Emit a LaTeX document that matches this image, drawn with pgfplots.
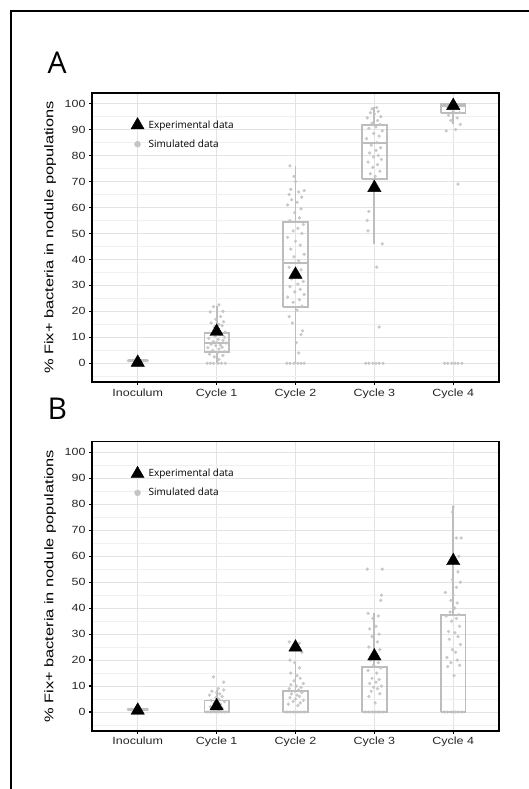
\documentclass[border=0pt]{standalone}
\usepackage{pgfplots}
\pgfplotsset{compat=1.18}
\usepackage{fontspec}
\setmainfont{Liberation Sans}
\newfontfamily\tickfont[FakeStretch=1.2]{Liberation Sans}
\newfontfamily\labfont[FakeStretch=1.3]{Liberation Sans}
\newfontfamily\legfont{Open Sans}
\definecolor{boxgray}{HTML}{BDBDBD}
\definecolor{ptgray}{HTML}{C4C4C4}
\definecolor{gridgray}{HTML}{E3E3E3}
\definecolor{minorgray}{HTML}{F0F0F0}

\pgfplotsset{
  panel/.style={
    scale only axis, width=407pt, height=289pt, anchor=south west,
    xmin=-0.58, xmax=4.58, ymin=-7.2, ymax=104.1,
    unbounded coords=jump,
    xtick={0,...,4}, xticklabels={Inoculum,Cycle 1,Cycle 2,Cycle 3,Cycle 4},
    ytick={0,10,...,100}, minor ytick={-5,5,...,95},
    grid=both,
    major grid style={gridgray, line width=0.6pt},
    minor grid style={minorgray, line width=0.6pt},
    axis line style={black, line width=1.6pt},
    tick align=outside, xtick pos=lower, ytick pos=left,
    major tick length=3pt, minor tick length=0pt,
    major tick style={black, line width=1.2pt},
    tick label style={font=\tickfont\fontsize{10.4}{12}\selectfont, text=black!85},
    /pgf/number format/assume math mode=true,
    ylabel={\% Fix+ bacteria in nodule populations},
    every axis y label/.style={at={(axis description cs:-0.103,0.5)}, rotate=90, anchor=center,
      font=\labfont\fontsize{12.6}{14}\selectfont},
    legend style={draw=none, fill=none, at={(axis cs:0,88.35)}, anchor=west, xshift=-6.9pt,
      font=\legfont\fontsize{10}{11}\selectfont, row sep=7pt, inner sep=0pt,
      nodes={inner sep=1.5pt}, column sep=3pt},
    legend cell align=left,
    legend image code/.code={\draw[##1] plot coordinates {(0pt,0pt)};},
  },
  bx/.style={boxgray, line width=1.8pt, solid, mark=none, line join=miter, forget plot},
  pts/.style={only marks, mark=*, mark size=1.45pt, color=ptgray,
    mark options={solid, fill=ptgray, draw=ptgray, opacity=0.9}, forget plot},
  tri/.style={only marks, mark=triangle*, mark size=7.7pt, color=black,
    mark options={fill=black, draw=black}, forget plot},
}

\begin{document}
\begin{tikzpicture}
\path[use as bounding box] (0,0) rectangle (528pt,789pt);
\draw[line width=1.2pt] (11pt,-1pt) |- (529pt,778pt);
\node[anchor=base west, inner sep=0pt, font=\legfont\fontsize{30}{31}\selectfont] at (47.5pt,715pt) {A};
\node[anchor=base west, inner sep=0pt, font=\legfont\fontsize{30}{31}\selectfont] at (47.5pt,369.5pt) {B};

% ---------------- panel A
\begin{axis}[panel, at={(92pt,407pt)}]
\addlegendimage{only marks, mark=triangle*, mark size=7.5pt, black}
\addlegendentry{Experimental data}
\addlegendimage{only marks, mark=*, mark size=3pt, color=ptgray, mark options={fill=ptgray, draw=ptgray}}
\addlegendentry{Simulated data}

% box plots: box (lower quartile to upper quartile), median, whiskers
\addplot[bx, line width=2.8pt] coordinates {(-0.125,1)(0.125,1)};
\addplot[bx] coordinates {(0.845,4.2)(1.155,4.2)(1.155,11.7)(0.845,11.7)(0.845,4.2) (1,nan)
 (0.845,7.7)(1.155,7.7) (1,nan) (1,11.7)(1,22) (1,nan) (1,0)(1,4.2)};
\addplot[bx] coordinates {(1.845,21.7)(2.155,21.7)(2.155,54.5)(1.845,54.5)(1.845,21.7) (2,nan)
 (1.845,38.6)(2.155,38.6) (2,nan) (2,54.5)(2,76) (2,nan) (2,0)(2,21.7)};
\addplot[bx] coordinates {(2.845,71.1)(3.155,71.1)(3.155,91.8)(2.845,91.8)(2.845,71.1) (3,nan)
 (2.845,84.7)(3.155,84.7) (3,nan) (3,91.8)(3,98.6) (3,nan) (3,46)(3,71.1)};
\addplot[bx] coordinates {(3.845,96.5)(4.155,96.5)(4.155,100)(3.845,100)(3.845,96.5) (4,nan)
 (3.845,99)(4.155,99) (4,nan) (4,92)(4,96.5)};

% simulated data
\addplot[pts] coordinates {(-0.12,1)(-0.08,1)(-0.05,1)(-0.02,1)(0.01,1)(0.04,1)(0.07,1)(0.1,1)(0.12,1)};
\addplot[pts] coordinates {(0.88,0)(0.92,0)(0.96,0)(1.02,0)(1.06,0)(1.11,0)
 (1.03,1.5)(0.97,2.5)(1.08,3)(0.91,3.5)(1.01,4)(1.10,4.5)(0.95,5)(1.03,5.5)(0.89,6)(1.07,6.2)
 (0.99,6.8)(1.05,7)(0.93,7.3)(1.12,7.8)(1.00,8)(0.96,8.4)(1.08,8.8)(1.02,9.2)(0.90,9.6)(1.10,10)
 (0.98,10.4)(1.04,11)(0.94,11.5)(1.11,12)(1.01,13)(0.97,14)(1.07,14.5)(1.03,15)(0.93,15.5)
 (1.09,16)(0.99,17)(1.05,18)(0.92,19.8)(1.08,20)(0.96,21.8)(1.03,22.5)};
\addplot[pts] coordinates {(1.89,0)(1.93,0)(1.98,0)(2.03,0)(2.07,0)(2.11,0)
 (2.04,4)(2.01,8)(2.07,11)(2.09,12.5)(1.96,15.5)(1.92,18)(2.02,20.5)(2.08,22)(1.97,23.5)(2.05,24.5)
 (1.90,25.5)(2.11,26.5)(1.99,27.5)(2.06,28.5)(1.93,29.5)(2.03,30.5)(2.10,31.5)(1.95,32.5)(2.01,33.5)
 (2.07,36)(1.92,37)(2.04,39.5)(1.98,41)(2.11,42)(1.94,44)(2.06,45.5)(2.00,47)(1.90,48.5)(2.08,50)
 (1.97,51)(2.03,52)(2.10,53.5)(1.93,55)(2.05,56)(1.99,58)(2.07,59.5)(1.90,61)(2.02,62)(1.95,63)
 (2.08,64)(1.92,65)(2.04,66)(2.11,66.5)(1.94,67)(2.00,70)(1.98,72)(1.93,76)};
\addplot[pts] coordinates {(2.89,0)(2.93,0)(2.98,0)(3.02,0)(3.06,0)(3.11,0)
 (3.06,14)(3.03,37)(3.10,46)(2.92,51)(2.91,55)(2.93,58.5)
 (3.01,72)(2.95,73)(3.07,74)(2.98,75.5)(3.04,76.5)(2.92,77.5)(3.09,78.5)(2.99,79.5)(3.05,80)
 (2.94,81)(3.02,82)(3.08,83)(2.96,84)(3.03,85)(2.90,86.5)(3.06,87.5)(2.99,88.5)(3.10,89.5)
 (2.93,90.5)(3.02,91)(3.07,92)(2.97,92.5)(3.04,93.5)(2.91,94.5)(3.08,95)(3.00,96)(2.95,96.5)
 (3.05,97)(2.97,98)(3.03,98.5)};
\addplot[pts] coordinates {(3.89,0)(3.93,0)(3.98,0)(4.02,0)(4.06,0)(4.11,0)
 (4.06,69)(3.91,89.5)(4.03,90)(4.09,92)(3.97,93.5)(4.05,94.5)(3.94,95.5)(4.08,96.5)(4.00,97)
 (3.96,98)(4.04,98.5)(3.92,99)(4.07,99.5)(4.01,100)(3.98,100)};

% experimental data
\addplot[tri] coordinates {(0,0.3)(1,12.2)(2,34.2)(3,67.6)(4,99.2)};
\end{axis}

% ---------------- panel B
\begin{axis}[panel, at={(92pt,58.3pt)}]
\addlegendimage{only marks, mark=triangle*, mark size=7.5pt, black}
\addlegendentry{Experimental data}
\addlegendimage{only marks, mark=*, mark size=3pt, color=ptgray, mark options={fill=ptgray, draw=ptgray}}
\addlegendentry{Simulated data}

\addplot[bx, line width=2.8pt] coordinates {(-0.125,1)(0.125,1)};
\addplot[bx] coordinates {(0.845,0)(1.155,0)(1.155,4.4)(0.845,4.4)(0.845,0) (1,nan) (1,4.4)(1,8.5)};
\addplot[bx] coordinates {(1.845,0)(2.155,0)(2.155,8)(1.845,8)(1.845,0) (2,nan) (2,8)(2,19)};
\addplot[bx] coordinates {(2.845,0)(3.155,0)(3.155,17.4)(2.845,17.4)(2.845,0) (3,nan) (3,17.4)(3,38.2)};
\addplot[bx] coordinates {(3.845,0)(4.155,0)(4.155,37.4)(3.845,37.4)(3.845,0) (4,nan) (4,37.4)(4,79.4)};

% simulated data
\addplot[pts] coordinates {(-0.12,1)(-0.08,1)(-0.05,1)(-0.02,1)(0.01,1)(0.04,1)(0.07,1)(0.1,1)(0.12,1)};
\addplot[pts] coordinates {(0.89,0)(0.93,0)(0.98,0)(1.02,0)(1.06,0)(1.11,0)
 (1.03,0.5)(0.96,1)(1.07,1.5)(0.92,2)(1.01,2.5)(1.05,3)(0.97,3.5)(1.10,4)(0.93,4.5)(1.03,5)
 (0.99,5.5)(1.07,6)(0.91,6.5)(1.04,7)(1.00,7.5)(0.94,8)(1.09,8.5)(1.02,9)(1.09,11.5)(0.96,13.5)};
\addplot[pts] coordinates {(1.89,0)(1.93,0)(1.98,0)(2.02,0)(2.06,0)(2.11,0)
 (2.03,2.5)(1.91,3)(2.06,3.5)(1.97,4)(2.10,4.5)(2.00,5)(1.93,5.5)(2.05,6)(2.02,6.5)(1.95,7)
 (2.08,7.5)(1.99,8)(2.04,8.5)(1.92,9)(2.07,9.5)(2.01,10)(1.94,10.5)(2.10,11)(1.98,12)(2.06,13)
 (2.02,14)(1.94,15)(2.05,17)(1.99,19)(1.93,20)(2.08,23)(1.92,27)(2.05,26.5)};
\addplot[pts] coordinates {(2.89,0)(2.93,0)(2.98,0)(3.02,0)(3.06,0)(3.11,0)
 (3.01,3.5)(2.93,6)(3.07,7)(2.96,8)(3.04,9)(2.99,9.5)(3.09,10)(2.94,11)(3.02,11.5)(3.06,12.5)
 (2.97,13)(3.03,15)(2.92,16)(3.08,17)(2.99,18)(3.05,19)(2.95,20)(3.01,22)(3.07,24)(2.93,25)
 (3.04,27)(2.97,29)(3.06,30)(2.94,32)(3.02,33)(2.98,36)(3.05,37)(2.92,38)(3.08,43)(3.09,45)
 (2.91,55)(3.10,55)};
\addplot[pts] coordinates {(3.89,0)(3.93,0)(3.98,0)(4.02,0)(4.06,0)(4.11,0)
 (4.01,14)(3.93,17.5)(4.08,18)(3.97,19)(4.05,20)(3.92,21)(4.03,23)(3.99,24)(4.09,26)(3.95,28)
 (4.06,29)(4.02,30.5)(3.94,31)(4.08,33)(3.98,35)(4.04,36)(3.91,37)(4.07,37.5)(3.96,38.5)(4.02,40)
 (4.05,42)(3.97,43)(4.00,45)(3.90,46)(4.04,48)(4.09,50)(3.99,51)(4.06,54)(4.01,58)(4.07,60)
 (4.10,67)(4.04,67)(3.99,77)(4.00,79)};

% experimental data
\addplot[tri] coordinates {(0,0.6)(1,2.3)(2,24.9)(3,21.5)(4,58.2)};
\end{axis}
\end{tikzpicture}
\end{document}
